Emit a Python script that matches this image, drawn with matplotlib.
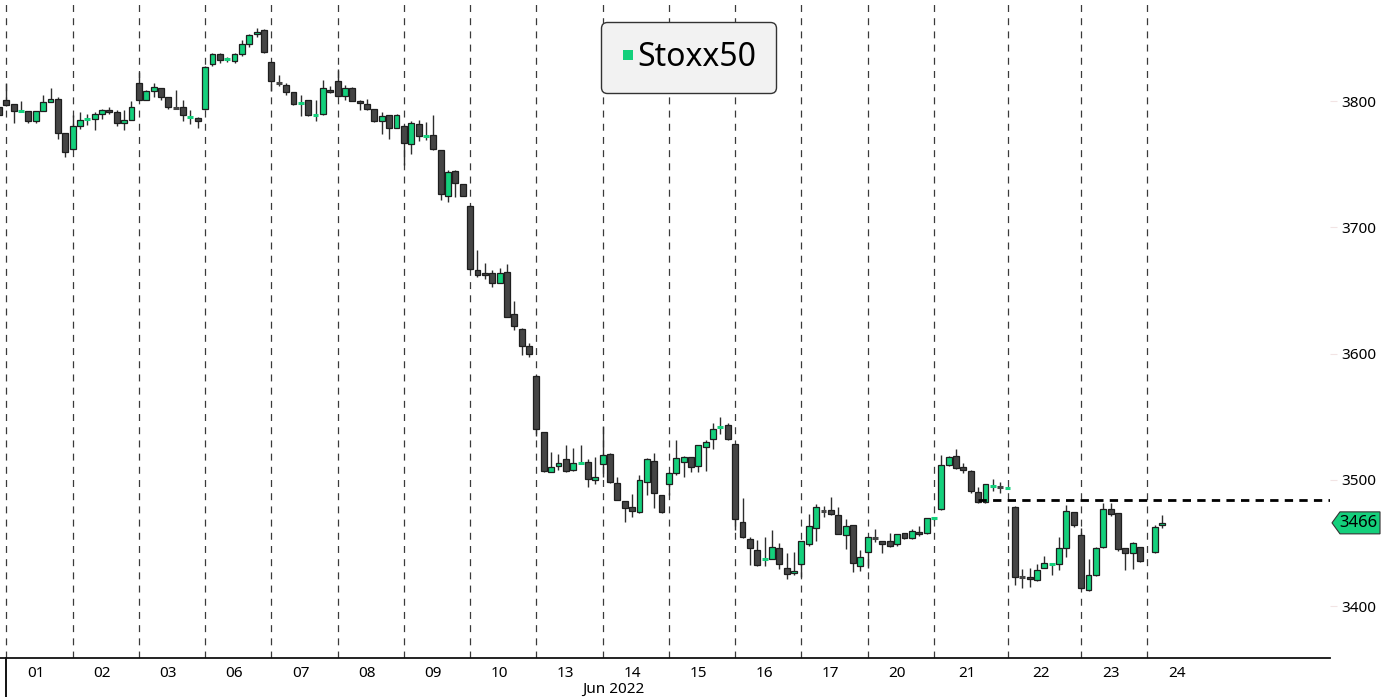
import matplotlib
matplotlib.use("Agg")
import matplotlib.pyplot as plt
import numpy as np
from matplotlib.lines import Line2D
from matplotlib.patches import Rectangle, Polygon

plt.rcParams['font.family'] = ['Noto Sans', 'DejaVu Sans']
plt.rcParams['lines.scale_dashes'] = False

# hourly bars, first bar is the last one of 31 May (partly visible)
days = ["01", "02", "03", "06", "07", "08", "09", "10", "13", "14",
        "15", "16", "17", "20", "21", "22", "23", "24"]
bars_per_day = [9] * 14 + [10, 10, 9, 3]
month_label = "Jun 2022"
series_name = "Stoxx50"
last_price = 3466
resistance_level = 3484
resistance_from_bar = 132

opens = [3795,
         3801, 3798, 3792, 3792, 3784, 3792, 3799, 3802, 3775,
         3762, 3780, 3785, 3785.5, 3790, 3793, 3791, 3783, 3785,
         3814, 3801, 3808, 3810, 3803, 3795, 3795, 3787, 3786.5,
         3794, 3829, 3837, 3833, 3832, 3837, 3845, 3853, 3856,
         3831, 3815, 3813, 3807, 3798.5, 3801, 3789, 3790, 3809,
         3816, 3804, 3810, 3800, 3797.6, 3794, 3784, 3789, 3779,
         3780, 3766, 3782, 3772.5, 3773, 3761, 3725, 3744.6, 3734,
         3717, 3666, 3663.6, 3663.6, 3656, 3664.4, 3631, 3619.5, 3606,
         3582.5, 3538, 3506.3, 3511, 3516.3, 3507.8, 3513.5, 3514, 3500,
         3512.3, 3520.5, 3497.3, 3483.3, 3478.3, 3474.9, 3498, 3515.2, 3487.8,
         3496.5, 3505.2, 3514, 3518, 3511.3, 3526.3, 3532.4, 3541.6, 3543.5,
         3528.2, 3467, 3453, 3444.5, 3437, 3437.1, 3446.1, 3430.5, 3426,
         3433.1, 3449, 3461.6, 3475.6, 3476.2, 3471.9, 3456.4, 3464, 3432.1,
         3443.2, 3454, 3451.9, 3451.4, 3449, 3457.7, 3453.7, 3458.5, 3457.7,
         3469.4, 3476.7, 3511.6, 3519, 3510, 3507.3, 3490.7, 3482.2, 3495.3, 3494.8,
         3493.8, 3478.8, 3423.4, 3422.9, 3420.7, 3430.5, 3433.3, 3433.4, 3446.3, 3474.3,
         3456.4, 3412.8, 3424.7, 3446.6, 3476.7, 3473.5, 3445.8, 3441.9, 3446.6,
         np.nan, 3443.2, 3464.3]
highs = [3797,
         3814, 3798, 3800, 3792, 3792, 3805, 3810, 3803, 3775,
         3789, 3791, 3790, 3791, 3794, 3795, 3793, 3793, 3800,
         3823, 3809, 3814, 3810, 3803, 3809, 3801, 3793, 3787,
         3828, 3838, 3838, 3835, 3838, 3848, 3853, 3858, 3857,
         3831, 3821, 3814, 3807, 3805, 3801, 3801, 3817, 3812,
         3825, 3813, 3811, 3800.5, 3802, 3794, 3791, 3789, 3790,
         3781, 3784, 3785, 3783.6, 3789, 3761.5, 3745, 3745.4, 3734.5,
         3717.5, 3682, 3672, 3666, 3667.5, 3671, 3642, 3620.5, 3608.7,
         3583, 3538, 3522.4, 3520.5, 3527.6, 3525, 3527.6, 3516.6, 3518,
         3542.7, 3521.6, 3502, 3483.5, 3488.6, 3504, 3517, 3521, 3488,
         3506, 3532, 3519, 3518, 3528, 3531.6, 3545.3, 3550, 3545.3,
         3528.5, 3485.4, 3454.5, 3452.4, 3455, 3460.3, 3449.8, 3441.9, 3442.6,
         3452, 3473, 3480.6, 3479.3, 3486.2, 3478.3, 3469, 3464.5, 3444.5,
         3455, 3461.1, 3452, 3457.7, 3457, 3458, 3461.1, 3463.5, 3470,
         3470.5, 3519.7, 3519, 3524.2, 3513.1, 3507.5, 3494.1, 3497, 3500.4, 3498.1,
         3494.5, 3479, 3429.2, 3430, 3433.4, 3440, 3434, 3455, 3480.1, 3474.5,
         3461.7, 3437.4, 3447.1, 3482, 3482, 3474, 3446, 3450.6, 3447,
         np.nan, 3464, 3472.2]
lows = [3787,
        3796, 3783, 3791, 3783, 3783, 3792, 3799, 3770, 3756,
        3761, 3778, 3781, 3777, 3786, 3790, 3780, 3777, 3785,
        3801, 3801, 3803, 3801, 3794, 3794, 3784, 3782, 3779,
        3793, 3828, 3830, 3831, 3830, 3836, 3843, 3851, 3838,
        3808, 3812, 3805, 3797, 3788, 3788, 3784, 3789, 3806,
        3803, 3801, 3800, 3793, 3793, 3783.5, 3774, 3770, 3779,
        3749, 3758, 3768.6, 3769, 3761, 3722, 3720, 3724, 3724.5,
        3666, 3661, 3659, 3653, 3656, 3629, 3619, 3599, 3597.6,
        3535, 3506, 3506, 3508, 3506.5, 3507, 3513, 3494.7, 3496.8,
        3502.6, 3497.8, 3484, 3467, 3471, 3474, 3488, 3477.5, 3474,
        3488, 3504, 3502.6, 3506.5, 3506, 3507.3, 3524.2, 3536, 3532,
        3460.3, 3454, 3433, 3432, 3432, 3437, 3429.2, 3421.3, 3425,
        3423.4, 3448, 3451.9, 3470.4, 3472, 3457, 3445, 3427.3, 3428.1,
        3430, 3451.1, 3441.9, 3447, 3447.9, 3453, 3453, 3455.8, 3457,
        3468.5, 3476, 3511, 3509, 3505.2, 3489.9, 3482, 3482, 3491.5, 3489.4,
        3493.3, 3416.8, 3414.2, 3415.5, 3420, 3430, 3424.7, 3428.7, 3438.7, 3463,
        3414, 3412, 3424, 3446, 3471.4, 3444, 3428.7, 3429.2, 3435,
        np.nan, 3442, 3461.6]
closes = [3789,
          3797, 3792, 3792.3, 3784, 3792, 3799, 3802, 3775, 3760,
          3780, 3785, 3785.8, 3790, 3793, 3791, 3783, 3785, 3795,
          3801, 3808, 3811, 3803, 3795, 3794.7, 3789, 3787.3, 3784,
          3827, 3837, 3832.5, 3833.2, 3837, 3845, 3852, 3855, 3839,
          3816, 3814, 3807, 3797.5, 3799, 3789, 3789.3, 3810, 3807.5,
          3804, 3810, 3800.3, 3798.4, 3793.7, 3784, 3788.4, 3779, 3789,
          3766.5, 3783, 3772, 3772.8, 3762, 3726, 3744, 3735, 3725,
          3667, 3662, 3662, 3656, 3663.6, 3629.2, 3622, 3606, 3599.4,
          3540, 3507, 3510.5, 3513.7, 3507.3, 3513.1, 3513.8, 3500.5, 3502.6,
          3520, 3498.6, 3484.1, 3477.5, 3475.7, 3499.7, 3516.5, 3489.4, 3474.9,
          3505.7, 3517.6, 3518.4, 3510, 3527.6, 3530.3, 3540, 3541.9, 3532.1,
          3469, 3455, 3445.8, 3432.6, 3437.3, 3446.6, 3433.4, 3425.2, 3427.9,
          3451.4, 3463.2, 3478.5, 3475.5, 3472.7, 3457.2, 3463.5, 3434.5, 3438.7,
          3454.5, 3453.7, 3449, 3447.9, 3456.9, 3453.7, 3459.5, 3456.9, 3469.6,
          3469.7, 3511.6, 3518.2, 3509.2, 3507.8, 3491.2, 3482.8, 3496.5, 3495.6, 3494.6,
          3494, 3422.9, 3422.6, 3421.5, 3428.7, 3434, 3433.5, 3445.8, 3475.6, 3464.3,
          3414.2, 3424.7, 3446.4, 3476.7, 3473, 3445, 3442.4, 3449.8, 3436,
          np.nan, 3463, 3466]

green = "#14D07C"
dark = "#454545"
edge = "#1e1e1e"

x = np.arange(len(opens)) - 1
day_starts = np.concatenate([[0], np.cumsum(bars_per_day)[:-1]])
day_ends = np.concatenate([day_starts[1:], [day_starts[-1] + 9]])
day_mid = (day_starts + day_ends) / 2 - 0.5

fig = plt.figure(figsize=(13.82, 6.97), dpi=100)
ax = fig.add_axes([0, 39 / 697, 1330 / 1382, 658 / 697])

for d in day_starts:
    ax.axvline(d, color="#3a3a3a", lw=0.9, linestyle=(0, (5, 4.5)), zorder=1)

w = 0.8
for xi, o, h, l, c in zip(x, opens, highs, lows, closes):
    if np.isnan(o):
        continue
    up = c >= o
    col = green if up else dark
    ax.plot([xi, xi], [l, h], color="#2e2e2e", lw=1.0, zorder=2,
            solid_capstyle="butt")
    if abs(c - o) < 1.2:
        ax.plot([xi - w / 2, xi + w / 2], [(o + c) / 2] * 2, color=col,
                lw=2.2, zorder=3, solid_capstyle="butt")
    else:
        ax.add_patch(Rectangle((xi - w / 2, min(o, c)), w, abs(c - o),
                               facecolor=col, edgecolor=edge, lw=0.9, zorder=3))

ax.hlines(resistance_level, resistance_from_bar, 200, color="black", lw=2.0,
          linestyles=(0, (6, 4.5)), zorder=4)

ax.set_xlim(-0.86, 179.8)
ax.set_ylim(3359, 3880)

ax.set_xticks(day_mid)
ax.set_xticklabels(days)
ax.tick_params(axis="x", length=0, pad=6, labelsize=11)
ax.yaxis.tick_right()
ax.set_yticks([3400, 3500, 3600, 3700, 3800])
ax.tick_params(axis="y", length=5, color="#f2e4e4", pad=3, labelsize=11)

for s in ["top", "left", "right"]:
    ax.spines[s].set_visible(False)
ax.spines["bottom"].set_linewidth(1.3)
ax.spines["bottom"].set_color("#111111")

# month separator below the axis
ax.plot([0, 0], [0, -39 / 658], color="black", lw=1.3,
        transform=ax.get_xaxis_transform(), clip_on=False)
fig.text(613 / 1382, 1 - 689 / 697, month_label, ha="center", va="center",
         fontsize=11)

# last price tag
tr = ax.get_yaxis_transform()
hh = 8.7
tag = Polygon([(1.0015, last_price), (1.0075, last_price + hh),
               (1.0376, last_price + hh), (1.0376, last_price - hh),
               (1.0075, last_price - hh)], closed=True, facecolor=green,
              edgecolor="#333333", lw=0.8, transform=tr, clip_on=False, zorder=5)
ax.add_patch(tag)
ax.text(1.0215, last_price, str(last_price), transform=tr, ha="center",
        va="center", fontsize=12, zorder=6, clip_on=False)

handle = Line2D([], [], marker="s", color=green, linestyle="none",
                markersize=7.2, markeredgewidth=0)
leg = ax.legend([handle], [series_name], loc="upper left",
                bbox_to_anchor=(601 / 1330, 1 - 22 / 658), fontsize=23,
                handlelength=0.5, handletextpad=0.05, borderpad=0.6,
                borderaxespad=0, fancybox=True, framealpha=1,
                facecolor="#f2f2f2", edgecolor="#333333")
leg.get_frame().set_boxstyle("round", pad=0, rounding_size=0.2)
leg.get_frame().set_linewidth(1.0)

fig.savefig("out.png", dpi=100)
